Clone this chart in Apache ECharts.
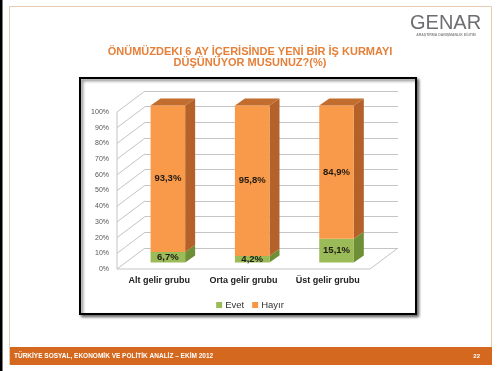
<!DOCTYPE html>
<html>
<head>
<meta charset="utf-8">
<script src="https://cdn.jsdelivr.net/npm/echarts@6/dist/echarts.min.js"></script>
<style>
html,body{margin:0;padding:0;background:#fff;}
#chart{width:500px;height:371px;}
</style>
</head>
<body>
<div id="chart"></div>
<script>
const categories = ['Alt gelir grubu', 'Orta gelir grubu', 'Üst gelir grubu'];
const evet = [6.7, 4.2, 15.1];
const hayir = [93.3, 95.8, 84.9];
const yTicks = [0, 10, 20, 30, 40, 50, 60, 70, 80, 90, 100];
const titleText = 'ÖNÜMÜZDEKI 6 AY İÇERİSİNDE YENİ BİR İŞ KURMAYI\nDÜŞÜNÜYOR MUSUNUZ?(%)';
const footerText = 'TÜRKİYE SOSYAL, EKONOMİK VE POLİTİK ANALİZ – EKİM 2012';
const pageNo = '22';

const FONT = '"Liberation Sans", Arial, sans-serif';
const WALL_DX = 28, WALL_DY = 21;   // depth of walls
const BAR_DX = 10, BAR_DY = 7;      // depth of bars

function fmt(v){ return v.toFixed(1).replace('.', ',') + '%'; }

function barRender(colors, drawTop) {
  return function(params, api) {
    const cat = api.value(0);
    const c0 = api.coord([cat, api.value(1)]);
    const c1 = api.coord([cat, api.value(2)]);
    const bw = api.size([1, 0])[0] * 0.41;
    const x = c0[0] - bw / 2;
    const yb = c0[1], yt = c1[1];
    const children = [
      { type: 'polygon', shape: { points: [[x + bw, yt], [x + bw + BAR_DX, yt - BAR_DY], [x + bw + BAR_DX, yb - BAR_DY], [x + bw, yb]] },
        style: { fill: colors.side } },
      { type: 'rect', shape: { x: x, y: yt, width: bw, height: yb - yt }, style: { fill: colors.front } }
    ];
    if (drawTop) {
      children.push({ type: 'polygon', shape: { points: [[x, yt], [x + BAR_DX, yt - BAR_DY], [x + bw + BAR_DX, yt - BAR_DY], [x + bw, yt]] },
        style: { fill: colors.top } });
    }
    children.push({ type: 'text', style: { text: fmt(api.value(3)), x: c0[0], y: (yb + yt) / 2,
      align: 'center', verticalAlign: 'middle', font: 'bold 9.5px ' + FONT, fill: '#1f1a14' } });
    return { type: 'group', children: children };
  };
}

function wallRender(params, api) {
  const cs = params.coordSys;
  const v = api.value(1);
  const p = api.coord([0, v]);
  const x0 = cs.x;
  const stroke = { stroke: '#c4c4c4', lineWidth: 1 };
  const children = [
    { type: 'line', shape: { x1: x0, y1: p[1], x2: x0 + WALL_DX, y2: p[1] - WALL_DY }, style: stroke }
  ];
  if (v === yTicks[0]) {
    const top = api.coord([0, yTicks[yTicks.length - 1]]);
    const xr = cs.x + cs.width;
    children.push({ type: 'line', shape: { x1: x0, y1: p[1], x2: x0, y2: top[1] }, style: stroke });
    children.push({ type: 'line', shape: { x1: x0, y1: p[1], x2: xr, y2: p[1] }, style: stroke });
    children.push({ type: 'line', shape: { x1: xr, y1: p[1], x2: xr + WALL_DX, y2: p[1] - WALL_DY }, style: stroke });
  }
  return { type: 'group', children: children };
}

const chart = echarts.init(document.getElementById('chart'), null, { renderer: 'canvas' });
chart.setOption({
  animation: false,
  backgroundColor: '#ffffff',
  textStyle: { fontFamily: FONT },
  title: {
    text: titleText, left: 'center', top: 41,
    textStyle: { fontSize: 11, fontWeight: 'bold', color: '#E5803A', lineHeight: 11, fontFamily: FONT }
  },
  legend: {
    data: ['Evet', 'Hayır'], left: 'center', top: 295,
    itemWidth: 6, itemHeight: 6, itemGap: 8, icon: 'rect',
    textStyle: { fontSize: 9.5, color: '#333', fontFamily: FONT, padding: [0, 0, 0, -2] }
  },
  graphic: [
    { type: 'rect', z: -100, shape: { x: 0, y: 0, width: 2.5, height: 371 }, style: { fill: '#000' } },
    { type: 'rect', z: -100, shape: { x: 9.5, y: 6.5, width: 482, height: 358 }, style: { fill: '#fff', stroke: '#E6CDB2', lineWidth: 1 } },
    { type: 'rect', z: -90, shape: { x: 80, y: 78, width: 336, height: 236 },
      style: { fill: '#fff', stroke: '#000', lineWidth: 2, shadowBlur: 3, shadowOffsetX: 2, shadowOffsetY: 2, shadowColor: 'rgba(0,0,0,0.55)' } },
    { type: 'rect', z: -80, shape: { x: 10, y: 347, width: 482, height: 18 }, style: { fill: '#D4681F' } },
    { type: 'text', z: -70, style: { text: footerText, x: 14, y: 356.5, verticalAlign: 'middle', font: 'bold 6.5px ' + FONT, fill: '#fff' } },
    { type: 'text', z: -70, style: { text: pageNo, x: 480, y: 356.5, align: 'right', verticalAlign: 'middle', font: 'bold 6px ' + FONT, fill: '#fff' } },
    { type: 'text', z: -70, style: { text: 'GENAR', x: 410, y: 13, font: '20px ' + FONT, fill: '#6D6E71' } },
    { type: 'text', z: -70, style: { text: 'ARAŞTIRMA DANIŞMANLIK EĞİTİM', x: 446, y: 35.5, align: 'center', verticalAlign: 'middle', font: 'bold 3.5px ' + FONT, fill: '#8a8a8a' } }
  ],
  grid: [
    { left: 125.7, right: 121.3, top: 105.5, bottom: 108.5 },
    { left: 117, right: 130, top: 112, bottom: 102 },
    { left: 145, right: 102, top: 91, bottom: 123 }
  ],
  xAxis: [
    { gridIndex: 0, type: 'category', data: categories, show: false },
    { gridIndex: 1, type: 'category', data: categories,
      axisLine: { show: false }, axisTick: { show: false },
      axisLabel: { interval: 0, hideOverlap: false, fontSize: 9, fontWeight: 'bold', color: '#222', margin: 7, fontFamily: FONT } },
    { gridIndex: 2, type: 'category', data: categories, show: false }
  ],
  yAxis: [
    { gridIndex: 0, type: 'value', min: 0, max: 100, interval: 10, show: false },
    { gridIndex: 1, type: 'value', min: 0, max: 100, interval: 10,
      axisLine: { show: false }, axisTick: { show: false }, splitLine: { show: false },
      axisLabel: { formatter: '{value}%', fontSize: 7, color: '#555', margin: 8, fontFamily: FONT } },
    { gridIndex: 2, type: 'value', min: 0, max: 100, interval: 10,
      axisLine: { show: false }, axisTick: { show: false }, axisLabel: { show: false },
      splitLine: { show: true, lineStyle: { color: '#c4c4c4', width: 1 } } }
  ],
  series: [
    { type: 'custom', name: 'walls', xAxisIndex: 1, yAxisIndex: 1, silent: true, z: 1,
      renderItem: wallRender, data: yTicks.map(t => [0, t]) },
    { type: 'custom', name: 'Evet', xAxisIndex: 0, yAxisIndex: 0, z: 3,
      itemStyle: { color: '#9BBB59' },
      renderItem: barRender({ front: '#9BBB59', side: '#6F8F37', top: '#86A84A' }, false),
      data: evet.map((v, i) => [i, 0, v, v]) },
    { type: 'custom', name: 'Hayır', xAxisIndex: 0, yAxisIndex: 0, z: 4,
      itemStyle: { color: '#F79646' },
      renderItem: barRender({ front: '#F99A4A', side: '#B5622A', top: '#C26C2E' }, true),
      data: hayir.map((v, i) => [i, evet[i], evet[i] + v, v]) }
  ]
});
</script>
</body>
</html>
